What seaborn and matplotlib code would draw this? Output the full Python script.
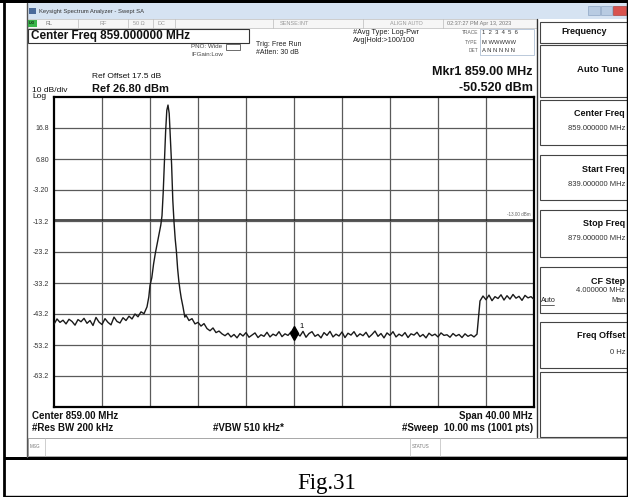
import matplotlib
matplotlib.use("Agg")
import matplotlib.pyplot as plt
from matplotlib.patches import Rectangle
from matplotlib.transforms import offset_copy
import pandas as pd
import seaborn as sns

# -----------------------------------------------------------------------------
# Trace, split into pieces (MHz / dBm)
# -----------------------------------------------------------------------------
left_floor_freq = [839.00, 839.25, 839.50, 839.75, 840.00, 840.25, 840.50, 840.75,
                   841.00, 841.25, 841.50, 841.75, 842.00, 842.25, 842.50, 842.75,
                   843.00, 843.25, 843.50, 843.75, 844.00, 844.25, 844.50, 844.75,
                   845.00, 845.25, 845.50, 845.75, 846.00, 846.25, 846.50]
left_floor_dbm = [-46.5, -44.8, -45.9, -45.2, -46.4, -44.9, -45.6, -46.8,
                  -45.0, -45.7, -44.6, -46.2, -45.3, -46.9, -44.3, -45.8,
                  -46.6, -44.7, -45.9, -46.7, -44.2, -45.6, -46.1, -44.4,
                  -45.3, -43.9, -44.8, -43.2, -44.1, -42.5, -43.1]

peak_freq = [846.75, 846.90, 847.00, 847.15, 847.30, 847.45, 847.60, 847.75,
             847.90, 848.00, 848.10, 848.20, 848.30, 848.40, 848.50, 848.60,
             848.70, 848.80, 848.90, 849.00, 849.10, 849.20, 849.30, 849.40,
             849.50, 849.60, 849.75, 849.90]
peak_dbm = [-40.9, -37.7, -34.0, -31.5, -27.0, -23.5, -20.5, -17.5,
            -14.5, -11.5, -4.0, 6.0, 15.5, 22.5, 24.2, 21.5,
            13.5, 5.0, -6.5, -13.5, -19.0, -23.0, -28.5, -32.5,
            -35.5, -38.0, -40.9, -44.2]

shoulder_freq = [850.00, 850.25, 850.50, 850.75, 851.00, 851.25, 851.50,
                 851.75, 852.00, 852.25, 852.50, 852.75, 853.00]
shoulder_dbm = [-43.6, -45.3, -44.7, -46.4, -45.9, -47.1, -46.3,
                -47.9, -48.6, -47.7, -49.2, -48.7, -49.6]

right_floor_freq = [853.25, 853.50, 853.75, 854.00, 854.25, 854.50, 854.75, 855.00,
                    855.25, 855.50, 855.75, 856.00, 856.25, 856.50, 856.75, 857.00,
                    857.25, 857.50, 857.75, 858.00, 858.25, 858.50, 858.75, 859.00,
                    859.25, 859.50, 859.75, 860.00, 860.25, 860.50, 860.75, 861.00,
                    861.25, 861.50, 861.75, 862.00, 862.25, 862.50, 862.75, 863.00,
                    863.25, 863.50, 863.75, 864.00, 864.25, 864.50, 864.75, 865.00,
                    865.25, 865.50, 865.75, 866.00, 866.25, 866.50, 866.75, 867.00,
                    867.25, 867.50, 867.75, 868.00, 868.25, 868.50, 868.75, 869.00,
                    869.25, 869.50, 869.75, 870.00, 870.25, 870.50, 870.75, 871.00,
                    871.25, 871.50, 871.75, 872.00, 872.25, 872.50, 872.75, 873.00,
                    873.25, 873.50, 873.75, 874.00, 874.25]
right_floor_dbm = [-50.2, -49.4, -50.6, -49.8, -50.9, -49.5, -50.3, -49.2,
                   -50.7, -50.0, -49.3, -50.8, -49.9, -50.4, -49.1, -50.6,
                   -49.7, -50.2, -48.9, -50.5, -49.6, -50.1, -49.0, -50.5,
                   -49.4, -50.3, -48.8, -50.7, -49.5, -48.9, -50.4, -49.8,
                   -50.9, -49.2, -50.1, -48.8, -50.6, -49.7, -50.3, -49.0,
                   -50.8, -49.4, -50.0, -48.9, -50.5, -49.6, -50.2, -49.1,
                   -50.7, -49.8, -48.7, -50.4, -49.5, -50.9, -49.3, -50.1,
                   -48.9, -50.6, -49.7, -50.3, -49.2, -50.8, -49.6, -50.0,
                   -49.1, -50.5, -49.8, -50.9, -49.4, -50.2, -49.7, -50.6,
                   -49.3, -50.1, -49.9, -50.7, -49.5, -50.3, -49.8, -50.8,
                   -49.6, -50.4, -49.9, -50.6, -49.7]

step_freq = [874.50, 874.75, 875.00, 875.25, 875.50, 875.75, 876.00, 876.25,
             876.50, 876.75, 877.00, 877.25, 877.50, 877.75, 878.00, 878.25,
             878.50, 878.75, 879.00]
step_dbm = [-39.0, -37.4, -38.6, -37.1, -38.9, -37.6, -38.2, -37.0,
            -38.7, -37.3, -38.4, -36.9, -38.1, -37.5, -38.8, -37.2,
            -38.0, -37.6, -38.5]

# marker 1 readout
marker_freq = 859.00
marker_dbm = -50.52

# screen scale: ref level 26.8 dBm, 10 dB/div, span 839-879 MHz
y_tick_values = [16.8, 6.8, -3.2, -13.2, -23.2, -33.2, -43.2, -53.2, -63.2]
y_tick_labels = ["16.8", "6.80", "-3.20", "-13.2", "-23.2", "-33.2", "-43.2", "-53.2", "-63.2"]
x_tick_values = [843, 847, 851, 855, 859, 863, 867, 871, 875]
display_line_dbm = -13.0

# softkey menu on the right
softkey_titles = ["Center Freq", "Start Freq", "Stop Freq", "CF Step", "Freq Offset"]
softkey_values = ["859.000000 MHz", "839.000000 MHz", "879.000000 MHz", "4.000000 MHz", "0 Hz"]


def box(bg, x0, y0, x1, y1, face="none", edge="#444444", lw=0.8):
    # rectangle in screen pixel coordinates
    bg.add_patch(Rectangle((x0, y0), x1 - x0, y1 - y0, facecolor=face,
                           edgecolor=edge, linewidth=lw))


def put(bg, x, y, s, size=5, bold=False, ha="left", color="#111111", **kw):
    bg.text(x, y, s, fontsize=size, fontweight="bold" if bold else "normal",
            ha=ha, va="center", color=color, **kw)


def draw_window(bg):
    # page frame around the screenshot (table cell borders)
    box(bg, 0, 0, 628, 3, face="black", edge="none")
    bg.plot([4, 4], [0, 497], color="black", linewidth=2)
    bg.plot([627, 627], [0, 497], color="black", linewidth=1)
    bg.plot([4, 628], [496, 496], color="black", linewidth=1)
    box(bg, 5, 457, 628, 460, face="black", edge="none")
    bg.plot([27, 27], [3, 457], color="#555555", linewidth=1)

    # title bar
    box(bg, 27, 3, 628, 19, face="#d6e3f2", edge="none")
    box(bg, 29, 8, 36, 14, face="#4a6a9a", edge="none")
    put(bg, 39, 11, "Keysight Spectrum Analyzer - Swept SA", size=4.2, color="#333333")
    box(bg, 588, 6, 600, 15, face="#b8cbe2", edge="#8fa6c4", lw=0.5)
    box(bg, 601, 6, 612, 15, face="#b8cbe2", edge="#8fa6c4", lw=0.5)
    box(bg, 613, 6, 626, 15, face="#d9534f", edge="#a94442", lw=0.5)

    # status row
    box(bg, 28, 19, 537, 28, face="#f6f6f6", edge="#bbbbbb", lw=0.5)
    box(bg, 28, 20, 37, 27, face="#39b54a", edge="none")
    put(bg, 29, 23.5, "LXI", size=3, color="black")
    for x in [78, 128, 153, 175, 273, 363, 443]:
        bg.plot([x, x], [19, 28], color="#bbbbbb", linewidth=0.5)
    put(bg, 46, 23.5, "RL", size=4, color="#777777")
    put(bg, 99, 23.5, "RF", size=4, color="#999999")
    put(bg, 133, 23.5, "50 \u03a9", size=4, color="#999999")
    put(bg, 158, 23.5, "DC", size=4, color="#999999")
    put(bg, 280, 23.5, "SENSE:INT", size=4, color="#999999")
    put(bg, 390, 23.5, "ALIGN AUTO", size=4, color="#999999")
    put(bg, 447, 23.5, "02:37:27 PM Apr 13, 2023", size=4, color="#777777")


def draw_header(bg):
    box(bg, 28, 29, 249, 43, edge="#333333", lw=0.8)
    put(bg, 31, 36, "Center Freq 859.000000 MHz", size=8.5, bold=True)

    put(bg, 222, 47, "PNO: Wide", size=4.5, ha="right", color="#444444")
    box(bg, 226, 44, 240, 50, edge="#555555", lw=0.6)
    put(bg, 223, 55, "IFGain:Low", size=4.5, ha="right", color="#444444")
    put(bg, 256, 44, "Trig: Free Run", size=5, color="#222222")
    put(bg, 256, 53, "#Atten: 30 dB", size=5, color="#222222")
    put(bg, 353, 32, "#Avg Type: Log-Pwr", size=5.3, color="#222222")
    put(bg, 353, 40, "Avg|Hold:>100/100", size=5.3, color="#222222")

    # trace / type / detector table
    put(bg, 478, 33, "TRACE", size=3.5, ha="right", color="#666666")
    put(bg, 478, 42, "TYPE", size=3.5, ha="right", color="#666666")
    put(bg, 478, 51, "DET", size=3.5, ha="right", color="#666666")
    box(bg, 480, 29, 534, 55, edge="#9fb3cc", lw=0.5)
    put(bg, 482, 33, "1  2  3  4  5  6", size=4.2, color="#333333")
    put(bg, 482, 42, "M WWWWW", size=4.2, color="#333333")
    put(bg, 482, 51, "A N N N N N", size=4.2, color="#333333")

    put(bg, 92, 77, "Ref Offset 17.5 dB", size=6)
    put(bg, 92, 89, "Ref 26.80 dBm", size=8, bold=True)
    put(bg, 32, 90, "10 dB/div", size=6)
    put(bg, 32, 97, "Log", size=6)

    put(bg, 533, 72, "Mkr1 859.00 MHz", size=9, bold=True, ha="right")
    put(bg, 533, 88, "-50.520 dBm", size=9, bold=True, ha="right")


def draw_softkeys(bg):
    bg.plot([537, 537], [19, 437], color="#333333", linewidth=1)
    box(bg, 540, 22, 629, 43, edge="#444444", lw=0.8)
    put(bg, 584, 32, "Frequency", size=6.5, bold=True, ha="center")
    box(bg, 540, 45, 629, 97, edge="#444444", lw=0.8)
    put(bg, 624, 70, "Auto Tune", size=6.8, bold=True, ha="right")

    tops = [100, 155, 210, 267, 322]
    bottoms = [145, 200, 257, 313, 368]
    value_gaps = [28, 29, 29, 24, 30]
    for title, value, top, bottom, gap in zip(softkey_titles, softkey_values, tops, bottoms, value_gaps):
        box(bg, 540, top, 629, bottom, edge="#444444", lw=0.8)
        put(bg, 625, top + 14, title, size=6.5, bold=True, ha="right")
        put(bg, 625, top + gap, value, size=5.5, ha="right", color="#333333")
    # CF Step has the Auto/Man switch under its value
    put(bg, 541, 301, "Auto", size=5.2, color="#222222")
    bg.plot([541, 554], [305, 305], color="#222222", linewidth=0.5)
    put(bg, 625, 301, "Man", size=5.2, ha="right", color="#222222")
    box(bg, 540, 372, 629, 437, edge="#444444", lw=0.8)


def draw_footer(bg):
    put(bg, 32, 416, "Center 859.00 MHz", size=7, bold=True)
    put(bg, 32, 428, "#Res BW 200 kHz", size=7, bold=True)
    put(bg, 213, 428, "#VBW 510 kHz*", size=7, bold=True)
    put(bg, 533, 416, "Span 40.00 MHz", size=7, bold=True, ha="right")
    put(bg, 533, 428, "#Sweep  10.00 ms (1001 pts)", size=7, bold=True, ha="right")

    box(bg, 28, 438, 628, 456, edge="#999999", lw=0.6)
    for x in [45, 410, 440]:
        bg.plot([x, x], [438, 456], color="#bbbbbb", linewidth=0.5)
    put(bg, 30, 447, "MSG", size=3.3, color="#777777")
    put(bg, 412, 447, "STATUS", size=3.3, color="#777777")

    bg.text(327, 484, "Fig.31", fontsize=16.5, ha="center", va="center",
            family=["Liberation Serif", "DejaVu Serif"], color="black")


def draw_trace(fig):
    # plot area sits at x 54..534, y 97..407 in screen pixels
    ax = fig.add_axes([54 / 628, (497 - 407) / 497, 480 / 628, 310 / 497])
    ax.set_zorder(2)

    trace = pd.DataFrame({
        "freq_mhz": left_floor_freq + peak_freq + shoulder_freq + right_floor_freq + step_freq,
        "level_dbm": left_floor_dbm + peak_dbm + shoulder_dbm + right_floor_dbm + step_dbm,
    })
    sns.lineplot(data=trace, x="freq_mhz", y="level_dbm", ax=ax, color="#1a1a1a",
                 linewidth=1.0, estimator=None, sort=False, zorder=3)

    ax.set_xlim(839, 879)
    ax.set_ylim(-73.2, 26.8)
    ax.set_xticks(x_tick_values)
    ax.set_xticklabels([])
    ax.set_yticks(y_tick_values)
    ax.set_yticklabels(y_tick_labels)
    ax.tick_params(axis="both", length=0)
    ax.tick_params(axis="y", pad=3.5, labelsize=5, labelcolor="#333333")
    ax.grid(True, color="#5a5a5a", linewidth=0.9)
    ax.set_xlabel("")
    ax.set_ylabel("")
    for spine in ax.spines.values():
        spine.set_visible(True)
        spine.set_color("black")
        spine.set_linewidth(1.6)

    # display line and its label
    ax.axhline(display_line_dbm, color="#222222", linewidth=1.1, zorder=2)
    ax.text(878.7, display_line_dbm + 1.2, "-13.00 dBm", fontsize=3.3, ha="right",
            va="bottom", color="#666666")

    # marker 1 sits just above the trace point
    lifted = offset_copy(ax.transData, fig=fig, y=4, units="dots")
    ax.plot([marker_freq], [marker_dbm], marker="d", markersize=7, color="black",
            transform=lifted, zorder=4)
    ax.annotate("1", (marker_freq, marker_dbm), xytext=(4, 6), textcoords="offset points",
                fontsize=5.5, color="black")
    return ax


def main():
    sns.set_style("white")
    plt.rcParams["font.family"] = ["Liberation Sans", "DejaVu Sans"]

    fig = plt.figure(figsize=(6.28, 4.97), dpi=100)
    fig.patch.set_facecolor("white")

    # full-size pixel canvas for all the screen furniture
    bg = fig.add_axes([0, 0, 1, 1])
    bg.set_xlim(0, 628)
    bg.set_ylim(497, 0)
    bg.axis("off")
    bg.set_zorder(1)

    draw_window(bg)
    draw_header(bg)
    draw_softkeys(bg)
    draw_footer(bg)
    draw_trace(fig)

    fig.savefig("out.png", dpi=100)
    plt.close(fig)


if __name__ == "__main__":
    main()
